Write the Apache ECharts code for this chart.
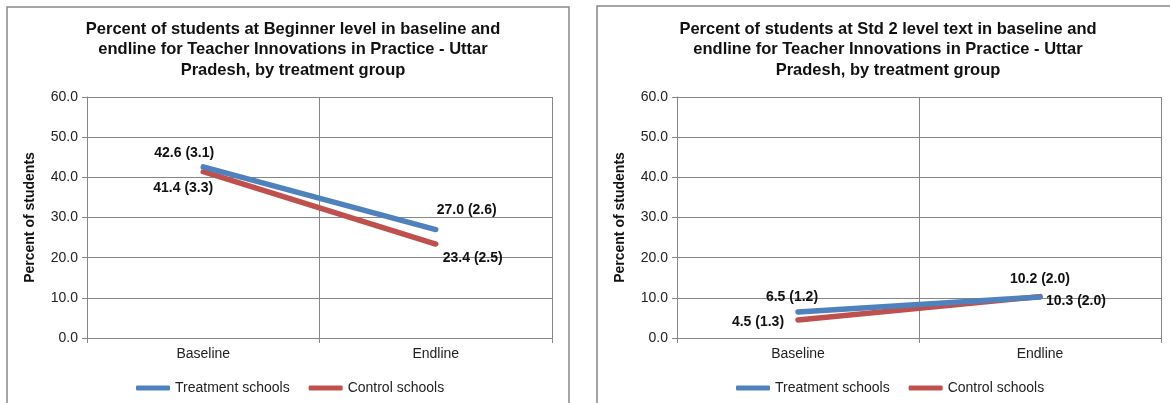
<!DOCTYPE html>
<html>
<head>
<meta charset="utf-8">
<script src="https://cdn.jsdelivr.net/npm/echarts@6/dist/echarts.min.js"></script>
<style>
  html, body { margin: 0; padding: 0; background: #fff; }
  #chart { width: 1170px; height: 403px; }
</style>
</head>
<body>
<div id="chart"></div>
<script>
// Categories and y-axis scale
const categories = ['Baseline', 'Endline'];
const yMin = 0, yMax = 60, yStep = 10;

// Panel 1: Beginner level (percent, standard error)
const beginnerTreatment = [42.6, 27.0];
const beginnerTreatmentSE = [3.1, 2.6];
const beginnerControl = [41.4, 23.4];
const beginnerControlSE = [3.3, 2.5];

// Panel 2: Std 2 level text (percent, standard error)
const std2Treatment = [6.5, 10.2];
const std2TreatmentSE = [1.2, 2.0];
const std2Control = [4.5, 10.3];
const std2ControlSE = [1.3, 2.0];

const titles = [
  'Percent of students at Beginner level in baseline and\nendline for Teacher Innovations in Practice - Uttar\nPradesh, by treatment group',
  'Percent of students at Std 2 level text in baseline and\nendline for Teacher Innovations in Practice - Uttar\nPradesh, by treatment group'
];
const seriesNames = ['Treatment schools', 'Control schools'];

const FONT = '"Liberation Sans", Arial, sans-serif';
const AXIS_GRAY = '#868686';
const BLUE = '#4F81BD';
const RED = '#C0504D';

// Build a labelled data list: "value (se)"
function labelled(values, ses, offsets) {
  return values.map((v, i) => ({
    value: v,
    label: {
      formatter: v.toFixed(1) + ' (' + ses[i].toFixed(1) + ')',
      offset: offsets[i]
    }
  }));
}

function lineSeries(name, color, idx, data) {
  return {
    name: name,
    type: 'line',
    xAxisIndex: idx,
    yAxisIndex: idx,
    data: data,
    symbol: 'circle',
    symbolSize: 0.1,
    itemStyle: { color: color },
    lineStyle: { color: color, width: 5.5, cap: 'round' },
    label: {
      show: true,
      position: 'inside',
      fontFamily: FONT,
      fontSize: 14,
      fontWeight: 'bold',
      color: '#111'
    },
    emphasis: { disabled: true },
    animation: false
  };
}

function xAxis(gridIndex) {
  return {
    type: 'category',
    gridIndex: gridIndex,
    data: categories,
    boundaryGap: true,
    axisLine: { lineStyle: { color: AXIS_GRAY, width: 1 } },
    axisTick: { show: true, length: 5, lineStyle: { color: AXIS_GRAY } },
    axisLabel: { fontFamily: FONT, fontSize: 14, color: '#222', margin: 9 },
    splitLine: { show: true, lineStyle: { color: AXIS_GRAY, width: 1 } }
  };
}

function yAxis(gridIndex) {
  return {
    type: 'value',
    gridIndex: gridIndex,
    min: yMin,
    max: yMax,
    interval: yStep,
    name: 'Percent of students',
    nameLocation: 'middle',
    nameRotate: 90,
    nameGap: 50,
    nameTextStyle: { fontFamily: FONT, fontSize: 14, fontWeight: 'bold', color: '#111' },
    axisLine: { show: true, lineStyle: { color: AXIS_GRAY, width: 1 } },
    axisTick: { show: true, length: 5, lineStyle: { color: AXIS_GRAY } },
    axisLabel: {
      fontFamily: FONT, fontSize: 14, color: '#222', margin: 9,
      formatter: v => v.toFixed(1)
    },
    splitLine: { show: true, lineStyle: { color: AXIS_GRAY, width: 1 } }
  };
}

function legend(left) {
  return {
    left: left,
    top: 376,
    itemWidth: 34,
    itemHeight: 5,
    itemGap: 19,
    icon: 'roundRect',
    data: seriesNames,
    selectedMode: false,
    textStyle: { fontFamily: FONT, fontSize: 14, color: '#222' }
  };
}

const chart = echarts.init(document.getElementById('chart'), null, { renderer: 'canvas' });

const titleStyle = { fontFamily: FONT, fontSize: 16.5, fontWeight: 'bold', color: '#111', lineHeight: 20.5 };

chart.setOption({
  backgroundColor: '#fff',
  animation: false,
  title: [
    { text: titles[0], left: 288, top: 14, textAlign: 'center', textStyle: titleStyle },
    { text: titles[1], left: 883, top: 14, textAlign: 'center', textStyle: titleStyle }
  ],
  graphic: [
    { type: 'rect', shape: { x: 7, y: 7, width: 562, height: 410 },
      style: { fill: 'none', stroke: '#888', lineWidth: 1.5 }, silent: true, z: -1 },
    { type: 'rect', shape: { x: 597, y: 6, width: 600, height: 410 },
      style: { fill: 'none', stroke: '#888', lineWidth: 1.5 }, silent: true, z: -1 }
  ],
  legend: [legend(131), legend(731)],
  grid: [
    { left: 87, top: 97, width: 465, height: 241, containLabel: false },
    { left: 677, top: 97, width: 484, height: 241, containLabel: false }
  ],
  xAxis: [xAxis(0), xAxis(1)],
  yAxis: [yAxis(0), yAxis(1)],
  series: [
    lineSeries(seriesNames[1], RED, 0,
      labelled(beginnerControl, beginnerControlSE, [[-20, 16], [37, 14]])),
    lineSeries(seriesNames[0], BLUE, 0,
      labelled(beginnerTreatment, beginnerTreatmentSE, [[-19, -14], [31, -19]])),
    lineSeries(seriesNames[1], RED, 1,
      labelled(std2Control, std2ControlSE, [[-40, 2], [36, 5]])),
    lineSeries(seriesNames[0], BLUE, 1,
      labelled(std2Treatment, std2TreatmentSE, [[-6, -15], [0, -18]]))
  ]
});
</script>
</body>
</html>
